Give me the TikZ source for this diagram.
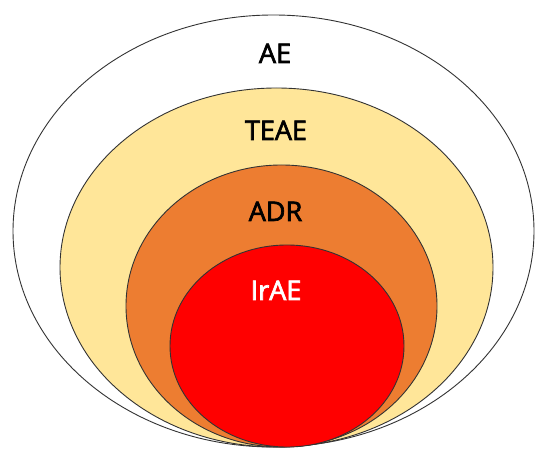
\documentclass[tikz,border=0pt]{standalone}
\usepackage{fontspec}
\setmainfont{Open Sans}
\newfontfamily\lblfont{Open Sans}[FakeBold=2.5]
\definecolor{teae}{HTML}{FFE699}
\definecolor{adr}{HTML}{ED7D31}
\definecolor{irae}{HTML}{FF0000}
\begin{document}
\begin{tikzpicture}[x=1pt,y=1pt,
  ring/.style={draw=black!80,line width=0.9pt},
  lbl/.style={anchor=base,inner sep=0pt,font=\lblfont\fontsize{27}{32}\selectfont}]
\useasboundingbox (0,0) rectangle (535,450);
\path[ring,fill=white] (273.5,219) ellipse [x radius=260.5,y radius=216];
\path[ring,fill=teae] (276.5,182.5) ellipse [x radius=216.5,y radius=179.5];
\path[ring,fill=adr] (281.5,144) ellipse [x radius=155.5,y radius=141];
\path[ring,fill=irae] (287,104) ellipse [x radius=117,y radius=101];
\node[lbl] (ae) at (275,387) {AE};
\node[lbl] (teae) at (276,310) {TEAE};
\node[lbl] (adr) at (275.5,229) {ADR};
\node[lbl,text=white] (irae) at (276,150) {IrAE};
\end{tikzpicture}
\end{document}
